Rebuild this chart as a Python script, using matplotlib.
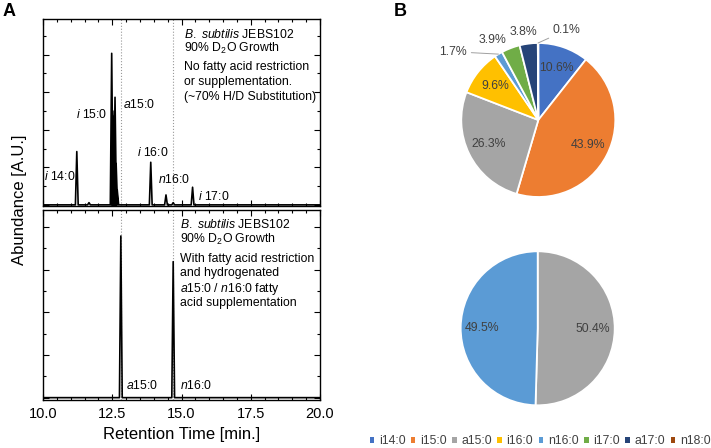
import matplotlib
matplotlib.use("Agg")
import matplotlib.pyplot as plt
import numpy as np
from matplotlib.ticker import MultipleLocator, FormatStrFormatter
from matplotlib.patches import Patch

plt.rcParams["font.family"] = ["Liberation Sans", "DejaVu Sans"]
plt.rcParams["mathtext.fontset"] = "custom"
plt.rcParams["mathtext.rm"] = "Liberation Sans"
plt.rcParams["mathtext.it"] = "Liberation Sans:italic"

# ---- chromatogram data (retention time [min], relative abundance) ----
top_rt = [11.22, 11.66, 12.48, 12.52, 12.55, 12.60, 12.64, 12.68, 13.89, 14.44, 14.70, 15.40]
top_height = [0.284, 0.012, 0.807, 0.50, 0.47, 0.573, 0.22, 0.08, 0.227, 0.053, 0.012, 0.094]

bottom_rt = [12.81, 14.70]
bottom_height = [0.757, 0.637]

guide_rt = [12.80, 14.70]

# ---- pie data (%) ----
categories = ["i14:0", "i15:0", "a15:0", "i16:0", "n16:0", "i17:0", "a17:0", "n18:0"]
colors = ["#4472C4", "#ED7D31", "#A5A5A5", "#FFC000", "#5B9BD5", "#70AD47", "#264478", "#9E480E"]
pie1_values = [10.6, 43.9, 26.3, 9.6, 1.7, 3.9, 3.8, 0.1]
pie2_cats = ["a15:0", "n16:0"]
pie2_values = [50.4, 49.5]

W, H = 711, 448
fig = plt.figure(figsize=(W / 100, H / 100), dpi=100)


def px_box(x0, y0, x1, y1):
    return [x0 / W, 1 - y1 / H, (x1 - x0) / W, (y1 - y0) / H]


axT = fig.add_axes(px_box(43, 19, 320, 206))
axB = fig.add_axes(px_box(43, 210, 320, 400))


def trace(rt, height, half=0.05):
    xs, ys = [10.0], [0.0]
    for t, h in zip(rt, height):
        xs += [t - half, t, t + half]
        ys += [0.0, h, 0.0]
    xs.append(20.0)
    ys.append(0.0)
    return xs, ys


for ax, rt, hh, ylim in [(axT, top_rt, top_height, (-0.006, 0.99)),
                         (axB, bottom_rt, bottom_height, (-0.011, 0.879))]:
    xs, ys = trace(rt, hh)
    ax.plot(xs, ys, color="black", lw=1.2)
    for g in guide_rt:
        ax.axvline(g, color="#999999", ls=":", lw=0.8, zorder=0)
    ax.set_xlim(10, 20)
    ax.set_ylim(*ylim)
    ax.xaxis.set_major_locator(MultipleLocator(2.5))
    ax.xaxis.set_minor_locator(MultipleLocator(0.5))
    ax.yaxis.set_major_locator(MultipleLocator(0.2))
    ax.yaxis.set_minor_locator(MultipleLocator(0.1))
    ax.tick_params(which="both", direction="in", top=True, right=True, labelleft=False, width=0.8)
    ax.tick_params(which="major", length=4)
    ax.tick_params(which="minor", length=2)
    for s in ax.spines.values():
        s.set_linewidth(1.0)

axT.tick_params(labelbottom=False)
axB.xaxis.set_major_formatter(FormatStrFormatter("%.1f"))
axB.tick_params(axis="x", labelsize=10.5, pad=5)
axB.set_xlabel("Retention Time [min.]", fontsize=12, labelpad=4)
fig.text(20 / W, 1 - 200 / H, "Abundance [A.U.]", rotation=90, ha="center", va="center", fontsize=12)

fs = 8.8
# top panel annotations
top_lines = [r"$\mathit{B.}$ $\mathit{subtilis}$ JEBS102", r"90% D$_2$O Growth", "No fatty acid restriction",
             "or supplementation.", "(~70% H/D Substitution)"]
top_line_y = [0.910, 0.834, 0.736, 0.656, 0.576]
for s, y in zip(top_lines, top_line_y):
    axT.text(15.09, y, s, fontsize=fs, va="center", ha="left")

bot_lines = [r"$\mathit{B.}$ $\mathit{subtilis}$ JEBS102", r"90% D$_2$O Growth", "With fatty acid restriction",
             "and hydrogenated", r"$\mathit{a}$15:0 / $\mathit{n}$16:0 fatty", "acid supplementation"]
bot_line_y = [0.809, 0.739, 0.650, 0.583, 0.510, 0.443]
for s, y in zip(bot_lines, bot_line_y):
    axB.text(14.95, y, s, fontsize=fs, va="center", ha="left")

peak_labels_top = [(10.04, 0.151, r"$\mathit{i}$ 14:0", "left"),
                   (12.31, 0.484, r"$\mathit{i}$ 15:0", "right"),
                   (12.89, 0.537, r"$\mathit{a}$15:0", "left"),
                   (13.39, 0.278, r"$\mathit{i}$ 16:0", "left"),
                   (14.14, 0.133, r"$\mathit{n}$16:0", "left"),
                   (15.60, 0.044, r"$\mathit{i}$ 17:0", "left")]
for x, y, s, ha in peak_labels_top:
    axT.text(x, y, s, fontsize=fs, va="center", ha=ha)
axB.text(13.00, 0.059, r"$\mathit{a}$15:0", fontsize=fs, va="center")
axB.text(14.95, 0.059, r"$\mathit{n}$16:0", fontsize=fs, va="center")

fig.text(9 / W, 1 - 11 / H, "A", fontsize=13, fontweight="bold", ha="center", va="center")
fig.text(400 / W, 1 - 11 / H, "B", fontsize=13, fontweight="bold", ha="center", va="center")

# ---- pies ----
R = 77.0
half_box = 130


def draw_pie(cx, cy, values, cols, outside):
    ax = fig.add_axes(px_box(cx - half_box, cy - half_box, cx + half_box, cy + half_box))
    wedges, _ = ax.pie(values, colors=cols, startangle=90, counterclock=False, radius=1,
                       wedgeprops=dict(edgecolor="white", linewidth=1.3))
    for i, (w, v) in enumerate(zip(wedges, values)):
        ang = np.deg2rad((w.theta1 + w.theta2) / 2)
        label = f"{v}%"
        if i in outside:
            tx, ty, leader = outside[i]
            if leader:
                ax.annotate(label, xy=(np.cos(ang), np.sin(ang)), xytext=(tx, ty), fontsize=fs,
                            color="#404040", ha="center", va="center",
                            arrowprops=dict(arrowstyle="-", color="#A0A0A0", lw=0.7,
                                            shrinkA=1, shrinkB=0))
            else:
                ax.text(tx, ty, label, fontsize=fs, color="#404040", ha="center", va="center")
        else:
            ax.text(0.72 * np.cos(ang), 0.72 * np.sin(ang), label, fontsize=fs, color="#404040",
                    ha="center", va="center")
    lim = half_box / R
    ax.set_xlim(-lim, lim)
    ax.set_ylim(-lim, lim)
    ax.axis("off")
    return ax


outside1 = {4: (-1.104, 0.887, True), 5: (-0.592, 1.039, False),
            6: (-0.195, 1.147, False), 7: (0.369, 1.169, True)}
draw_pie(538.3, 120, pie1_values, colors, outside1)
draw_pie(537.7, 328.3, pie2_values, [colors[categories.index(c)] for c in pie2_cats], {})

handles = [Patch(facecolor=c, edgecolor="none") for c in colors]
fig.legend(handles, categories, loc="center", bbox_to_anchor=(540 / W, 1 - 441 / H), ncol=8,
           frameon=False, fontsize=fs, handlelength=0.37, handleheight=0.37, handletextpad=0.38,
           columnspacing=0.45, borderpad=0, borderaxespad=0, labelcolor="#404040")

fig.savefig("out.png", dpi=100)
